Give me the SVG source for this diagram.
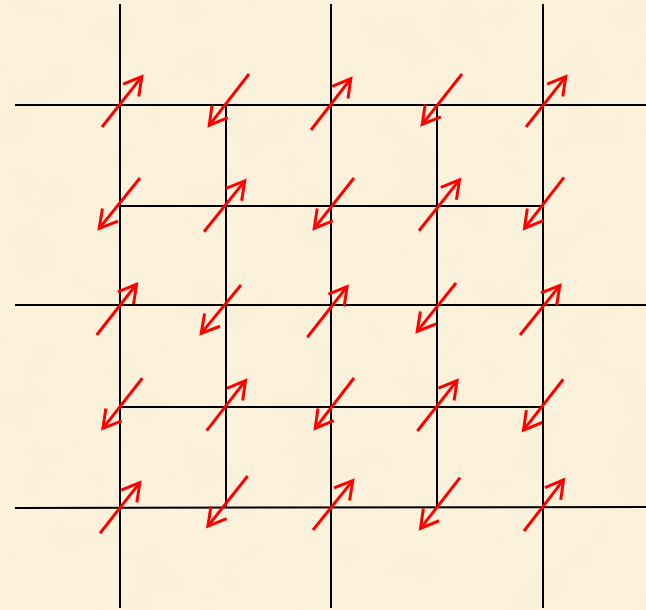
<svg xmlns="http://www.w3.org/2000/svg" width="646" height="610" viewBox="0 0 646 610">
  <style>
    .grid line { stroke: #000000; stroke-width: 2; stroke-linecap: butt; }
    .spin { stroke: #ff0000; stroke-width: 3; fill: none; marker-end: url(#ah); }
  </style>
  <defs>
    <filter id="paper" x="0" y="0" width="100%" height="100%">
      <feTurbulence type="fractalNoise" baseFrequency="0.018" numOctaves="3" seed="7"/>
      <feColorMatrix type="matrix" values="0 0 0 0 0.93  0 0 0 0 0.85  0 0 0 0 0.66  0.7 0 0 0 -0.3"/>
    </filter>
    <marker id="ah" markerUnits="userSpaceOnUse" viewBox="-25 -15 30 30" markerWidth="30" markerHeight="30" refX="0" refY="0" orient="auto" overflow="visible">
      <path d="M-17.5,-10 L0,0 L-17.5,10" fill="none" stroke="#ff0000" stroke-width="3" stroke-linejoin="miter"/>
    </marker>
  </defs>

  <rect x="0" y="0" width="646" height="610" fill="#fcf2dc"/>
  <rect x="0" y="0" width="646" height="610" filter="url(#paper)"/>

  <g id="grid" class="grid">
    <line x1="120" y1="4" x2="120" y2="608"/>
    <line x1="331" y1="4" x2="331" y2="608"/>
    <line x1="543" y1="4" x2="543" y2="608"/>
    <line x1="15" y1="105" x2="646" y2="105"/>
    <line x1="15" y1="305" x2="646" y2="305"/>
    <line x1="15" y1="508" x2="646" y2="507"/>
    <line x1="120" y1="206" x2="543" y2="206"/>
    <line x1="120" y1="407" x2="543" y2="407"/>
    <line x1="226" y1="105" x2="226" y2="508"/>
    <line x1="437" y1="105" x2="437" y2="508"/>
  </g>

  <g id="spins">
    <g id="row0">
      <line class="spin" x1="102" y1="127" x2="141.8" y2="76.6"/>
      <line class="spin" x1="249" y1="74" x2="209.2" y2="125.4"/>
      <line class="spin" x1="311" y1="130" x2="350.8" y2="78.6"/>
      <line class="spin" x1="462" y1="74" x2="422.2" y2="124.4"/>
      <line class="spin" x1="526" y1="127" x2="565.8" y2="76.6"/>
    </g>
    <g id="row1">
      <line class="spin" x1="140" y1="178" x2="99.2" y2="228.4"/>
      <line class="spin" x1="204" y1="231.7" x2="244.8" y2="180.9"/>
      <line class="spin" x1="354" y1="178" x2="314.2" y2="228.4"/>
      <line class="spin" x1="419" y1="230.7" x2="459.5" y2="179.9"/>
      <line class="spin" x1="564" y1="177.3" x2="524.5" y2="228.4"/>
    </g>
    <g id="row2">
      <line class="spin" x1="96.7" y1="335" x2="136.5" y2="284.3"/>
      <line class="spin" x1="241" y1="285" x2="201.2" y2="333.4"/>
      <line class="spin" x1="307.3" y1="337.3" x2="347.1" y2="286.6"/>
      <line class="spin" x1="456" y1="283" x2="417.2" y2="331.4"/>
      <line class="spin" x1="520" y1="335" x2="559.8" y2="285.6"/>
    </g>
    <g id="row3">
      <line class="spin" x1="142.3" y1="378.3" x2="102.9" y2="428.4"/>
      <line class="spin" x1="206.7" y1="430.7" x2="245.5" y2="380.6"/>
      <line class="spin" x1="354" y1="378" x2="315.2" y2="428.4"/>
      <line class="spin" x1="417.3" y1="431" x2="457.1" y2="380.6"/>
      <line class="spin" x1="563.3" y1="379.3" x2="523.5" y2="430.1"/>
    </g>
    <g id="row4">
      <line class="spin" x1="100" y1="533.3" x2="139.8" y2="482.6"/>
      <line class="spin" x1="247.7" y1="476" x2="207.9" y2="526.1"/>
      <line class="spin" x1="313" y1="530" x2="352.8" y2="480.6"/>
      <line class="spin" x1="460" y1="477.7" x2="420.5" y2="528.4"/>
      <line class="spin" x1="524" y1="531" x2="563.5" y2="479.9"/>
    </g>
  </g>
</svg>
